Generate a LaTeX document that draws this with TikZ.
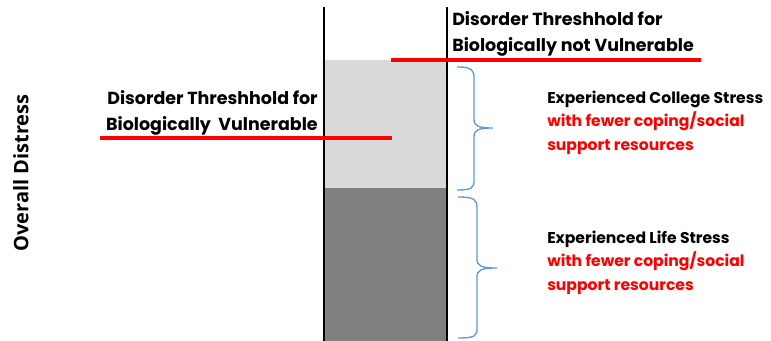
\documentclass[tikz,border=0pt]{standalone}
\usepackage{fontspec}
\setmainfont{Poppins}[BoldFont={Poppins Bold}]
\newfontfamily\axisfont{Open Sans}[BoldFont={Open Sans Bold}]
\usetikzlibrary{positioning}
\definecolor{braceblue}{HTML}{5B9BD5}
\definecolor{lowgray}{HTML}{808080}
\definecolor{highgray}{HTML}{D9D9D9}
\tikzstyle{chart}=[x=0.75pt, y=-0.75pt]
\tikzstyle{wall}=[draw=black, line width=1.2pt]
\tikzstyle{threshold}=[draw=red, line width=2.4pt]
\tikzstyle{stressbrace}=[draw=braceblue, line width=1pt]
\tikzstyle{thresholdtext}=[inner sep=0pt, font=\bfseries\fontsize{13.1}{19.8}\selectfont]
\tikzstyle{stresstext}=[inner sep=0pt, align=left, font=\bfseries\fontsize{11.7}{17.4}\selectfont]

\begin{document}
\begin{tikzpicture}[chart]
  \useasboundingbox (0,0) rectangle (771,341);
  % stacked distress bar
  \fill[highgray] (324,60) rectangle (447,188);
  \fill[lowgray] (324,188) rectangle (447,341);
  \draw[wall] (324,7) -- (324,341);
  \draw[wall] (447,7) -- (447,341);
  % thresholds
  \draw[threshold] (391,60) -- (701,60);
  \draw[threshold] (100,138) -- (392,138);
  \node[thresholdtext, align=left, anchor=north west] (not vulnerable) at (452,11) {Disorder Threshhold for\\Biologically not Vulnerable};
  \node[thresholdtext, align=right, anchor=north east] (vulnerable) at (318,90) {Disorder Threshhold for\\Biologically\ \ Vulnerable};
  \node[rotate=90, font=\axisfont\bfseries\fontsize{15}{18}\selectfont] (distress) at (21,173) {Overall Distress};
  % braces
  \draw[stressbrace] (457,67) .. controls (472,67) and (474,70) .. (474,78) -- (474,119) .. controls (474,126) and (478,128) .. (493,128) .. controls (478,128) and (474,130) .. (474,137) -- (474,180) .. controls (474,188) and (472,190) .. (457,190);
  \draw[stressbrace] (458,197) .. controls (475,197) and (477,200) .. (477,208) -- (477,259) .. controls (477,266) and (481,268) .. (497,268) .. controls (481,268) and (477,270) .. (477,277) -- (477,328) .. controls (477,336) and (475,338) .. (458,338);
  \node[stresstext, anchor=north west] (college) at (547,91) {Experienced College Stress\\\textcolor{red}{with fewer coping/social}\\\textcolor{red}{support resources}};
  \node[stresstext, anchor=north west] (life) at (547,231) {Experienced Life Stress\\\textcolor{red}{with fewer coping/social}\\\textcolor{red}{support resources}};
\end{tikzpicture}
\end{document}
